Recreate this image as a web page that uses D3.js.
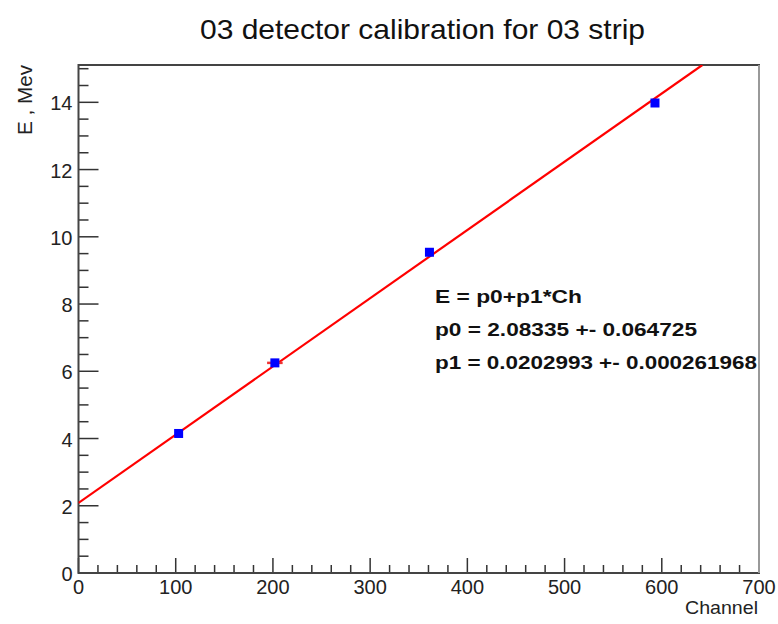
<!DOCTYPE html>
<html>
<head>
<meta charset="utf-8">
<script src="https://cdn.jsdelivr.net/npm/d3@7"></script>
<style>
  body { margin: 0; background: #fff; }
  text { font-family: "Liberation Sans", Arial, sans-serif; }
</style>
</head>
<body>
<div id="chart"></div>
<script>
// calibration points (channel, energy) and their errors
const channels = [103, 202, 361, 593];
const energies = [4.15, 6.25, 9.54, 13.98];
const chErr = [0, 8, 0, 0];
const eErr = [0, 0, 0, 0.12];

// fit parameters
const p0 = 2.08335;
const p1 = 0.0202993;
const fitText = ["E = p0+p1*Ch", "p0 = 2.08335 +- 0.064725", "p1 = 0.0202993 +- 0.000261968"];
const fitWidths = [147, 262, 322];

const xTicks = [0, 100, 200, 300, 400, 500, 600, 700];
const yTicks = [0, 2, 4, 6, 8, 10, 12, 14];

const W = 778, H = 624;
const margin = { top: 65, right: 19, bottom: 51, left: 78.5 };
const width = W - margin.left - margin.right;
const height = H - margin.top - margin.bottom;

const svg = d3.select("#chart").append("svg")
    .attr("width", W)
    .attr("height", H);

const g = svg.append("g")
    .attr("transform", `translate(${margin.left},${margin.top})`);

const x = d3.scaleLinear().domain([0, 700]).range([0, width]);
const y = d3.scaleLinear().domain([0, 15.11]).range([height, 0]);

// minor ticks
const xMinor = d3.range(0, 701, 20).filter(v => v % 100 !== 0);
const yMinor = d3.range(0, 15.01, 0.5).filter(v => v % 2 !== 0);

g.selectAll(".xminor").data(xMinor).enter().append("line")
    .attr("x1", d => x(d)).attr("x2", d => x(d))
    .attr("y1", height).attr("y2", height - 8)
    .attr("stroke", "#333").attr("stroke-width", 1.5);
g.selectAll(".xmajor").data(xTicks).enter().append("line")
    .attr("x1", d => x(d)).attr("x2", d => x(d))
    .attr("y1", height).attr("y2", height - 15)
    .attr("stroke", "#333").attr("stroke-width", 1.5);
g.selectAll(".yminor").data(yMinor).enter().append("line")
    .attr("x1", 0).attr("x2", 10)
    .attr("y1", d => y(d)).attr("y2", d => y(d))
    .attr("stroke", "#333").attr("stroke-width", 1.5);
g.selectAll(".ymajor").data(yTicks).enter().append("line")
    .attr("x1", 0).attr("x2", 20)
    .attr("y1", d => y(d)).attr("y2", d => y(d))
    .attr("stroke", "#333").attr("stroke-width", 1.5);

// tick labels
g.selectAll(".xlab").data(xTicks).enter().append("text")
    .attr("x", d => x(d)).attr("y", height + 21)
    .attr("text-anchor", "middle")
    .style("font-size", "20px")
    .attr("fill", "#222")
    .text(d => d);
g.selectAll(".ylab").data(yTicks).enter().append("text")
    .attr("x", -6).attr("y", d => y(d) + 8)
    .attr("text-anchor", "end")
    .style("font-size", "20px")
    .attr("fill", "#222")
    .text(d => d);

// frame
g.append("rect")
    .attr("width", width).attr("height", height)
    .attr("fill", "none")
    .attr("stroke", "#444").attr("stroke-width", 2);
g.append("line")
    .attr("x1", width).attr("x2", width).attr("y1", 0).attr("y2", height)
    .attr("stroke", "#999").attr("stroke-width", 2);

// fit line, clipped to frame
svg.append("clipPath").attr("id", "clip")
    .append("rect").attr("width", width).attr("height", height);
const xEnd = (15.11 - p0) / p1;
g.append("line")
    .attr("clip-path", "url(#clip)")
    .attr("x1", x(0)).attr("y1", y(p0))
    .attr("x2", x(xEnd)).attr("y2", y(p0 + p1 * xEnd))
    .attr("stroke", "#f00").attr("stroke-width", 2.2);

const pts = channels.map((c, i) => ({ c, e: energies[i], dc: chErr[i], de: eErr[i] }));

// error bars
g.selectAll(".xerr").data(pts.filter(d => d.dc > 0)).enter().append("line")
    .attr("x1", d => x(d.c - d.dc)).attr("x2", d => x(d.c + d.dc))
    .attr("y1", d => y(d.e)).attr("y2", d => y(d.e))
    .attr("stroke", "#e33").attr("stroke-width", 2.5);
g.selectAll(".yerr").data(pts.filter(d => d.de > 0)).enter().append("line")
    .attr("x1", d => x(d.c)).attr("x2", d => x(d.c))
    .attr("y1", d => y(d.e - d.de)).attr("y2", d => y(d.e + d.de))
    .attr("stroke", "#e33").attr("stroke-width", 2.5);

// markers
g.selectAll(".pt").data(pts).enter().append("rect")
    .attr("x", d => x(d.c) - 4.5).attr("y", d => y(d.e) - 4.5)
    .attr("width", 9).attr("height", 9)
    .attr("fill", "#00f");

// fit text
g.selectAll(".fit").data(fitText).enter().append("text")
    .attr("x", 356.5).attr("y", (d, i) => 238 + i * 33)
    .attr("textLength", (d, i) => fitWidths[i])
    .attr("lengthAdjust", "spacingAndGlyphs")
    .style("font-size", "19px")
    .style("font-weight", "bold")
    .attr("fill", "#111")
    .text(d => d);

// title and axis labels
svg.append("text")
    .attr("x", 200).attr("y", 39)
    .attr("textLength", 445)
    .attr("lengthAdjust", "spacingAndGlyphs")
    .style("font-size", "28px")
    .attr("fill", "#111")
    .text("03 detector calibration for 03 strip");
svg.append("text")
    .attr("x", 685).attr("y", 614)
    .attr("textLength", 73)
    .attr("lengthAdjust", "spacingAndGlyphs")
    .style("font-size", "19px")
    .attr("fill", "#222")
    .text("Channel");
svg.append("text")
    .attr("transform", "translate(32,135) rotate(-90)")
    .attr("textLength", 70)
    .attr("lengthAdjust", "spacingAndGlyphs")
    .style("font-size", "20px")
    .attr("fill", "#222")
    .text("E , Mev");
</script>
</body>
</html>
